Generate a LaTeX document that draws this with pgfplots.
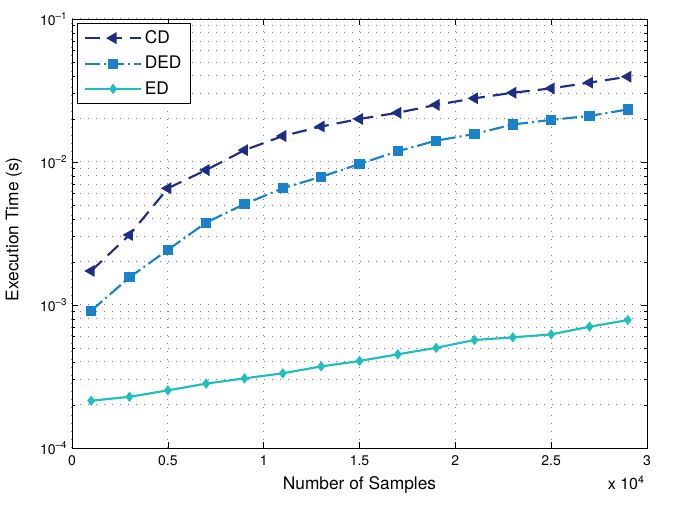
\documentclass[border=0pt]{standalone}
\usepackage{fontspec}
\setmainfont{TeX Gyre Heros}
\usepackage{pgfplots}
\pgfplotsset{compat=1.18}
\definecolor{cdcol}{RGB}{30,45,135}
\definecolor{dedcol}{RGB}{25,130,200}
\definecolor{edcol}{RGB}{30,190,190}
\begin{document}
\begin{tikzpicture}
\begin{axis}[
  name=ax,
  scale only axis,
  width=431.25pt, height=321.75pt,
  xmin=0, xmax=3, ymin=1e-4, ymax=1e-1,
  ymode=log, log basis y=10,
  xtick={0,0.5,1,1.5,2,2.5,3},
  xticklabels={0,0.5,1,1.5,2,2.5,3},
  ytick={1e-4,1e-3,1e-2,1e-1},
  yticklabels={10\textsuperscript{–4},10\textsuperscript{–3},10\textsuperscript{–2},10\textsuperscript{–1}},
  minor ytick={2e-4,3e-4,4e-4,5e-4,6e-4,7e-4,8e-4,9e-4,
               2e-3,3e-3,4e-3,5e-3,6e-3,7e-3,8e-3,9e-3,
               2e-2,3e-2,4e-2,5e-2,6e-2,7e-2,8e-2,9e-2},
  tick label style={font=\fontsize{10.5}{12}\selectfont},
  xticklabel style={yshift=-2pt},
  xmajorgrids, ymajorgrids, yminorgrids,
  grid style={dash pattern=on 0.75pt off 5.25pt, line width=0.75pt, black!50},
  minor grid style={dash pattern=on 0.75pt off 5.25pt, line width=0.75pt, black!50},
  major tick length=4.5pt, minor tick length=2.5pt,
  tick style={black, line width=0.5pt},
  axis line style={line width=0.6pt},
  xlabel={Number of Samples},
  ylabel={Execution Time (s)},
  label style={font=\fontsize{13}{15}\selectfont},
  xlabel style={at={(axis description cs:0.5,-0.065)}, anchor=north, inner sep=0pt},
  ylabel style={at={(axis description cs:-0.101,0.51)}, rotate=0, anchor=center, inner sep=0pt},
  legend style={at={(0.0087,0.9907)}, anchor=north west, draw=black, line width=0.5pt,
    font=\fontsize{13}{15}\selectfont, row sep=4pt, inner xsep=5pt, inner ysep=3.5pt},
  legend cell align=left,
  legend image code/.code={\draw[mark repeat=2,mark phase=2,#1] plot coordinates {(0pt,0pt) (21pt,0pt) (42pt,0pt)};},
]
\addplot[cdcol, line width=1.6pt, dash pattern=on 11pt off 6pt,
  mark=triangle*, mark size=3.6pt, mark options={solid, rotate=90}]
  coordinates {
  (0.1,1.73e-3) (0.3,3.09e-3) (0.5,6.55e-3) (0.7,8.79e-3) (0.9,1.21e-2)
  (1.1,1.52e-2) (1.3,1.77e-2) (1.5,2.00e-2) (1.7,2.21e-2) (1.9,2.51e-2)
  (2.1,2.79e-2) (2.3,3.05e-2) (2.5,3.27e-2) (2.7,3.59e-2) (2.9,3.95e-2)};
\addlegendentry{CD}
\addplot[dedcol, line width=1.6pt, dash pattern=on 11pt off 3pt on 1.5pt off 3pt,
  mark=square*, mark size=3pt, mark options={solid}]
  coordinates {
  (0.1,9.12e-4) (0.3,1.56e-3) (0.5,2.43e-3) (0.7,3.77e-3) (0.9,5.08e-3)
  (1.1,6.55e-3) (1.3,7.89e-3) (1.5,9.68e-3) (1.7,1.19e-2) (1.9,1.41e-2)
  (2.1,1.57e-2) (2.3,1.83e-2) (2.5,1.97e-2) (2.7,2.10e-2) (2.9,2.33e-2)};
\addlegendentry{DED}
\addplot[edcol, line width=1.6pt, solid,
  mark=diamond*, mark size=2.6pt, mark options={solid}]
  coordinates {
  (0.1,2.14e-4) (0.3,2.28e-4) (0.5,2.53e-4) (0.7,2.82e-4) (0.9,3.07e-4)
  (1.1,3.33e-4) (1.3,3.72e-4) (1.5,4.06e-4) (1.7,4.52e-4) (1.9,5.02e-4)
  (2.1,5.69e-4) (2.3,5.94e-4) (2.5,6.23e-4) (2.7,7.05e-4) (2.9,7.85e-4)};
\addlegendentry{ED}
\end{axis}
\node[anchor=north east, inner sep=0pt, font=\fontsize{12}{14}\selectfont]
  at ([xshift=-1.5pt,yshift=-21pt]ax.south east) {x 10\textsuperscript{4}};
\pgfresetboundingbox
\path ([xshift=-54pt,yshift=-42.75pt]ax.south west) rectangle ([xshift=28.5pt,yshift=14.25pt]ax.north east);
\end{tikzpicture}
\end{document}
